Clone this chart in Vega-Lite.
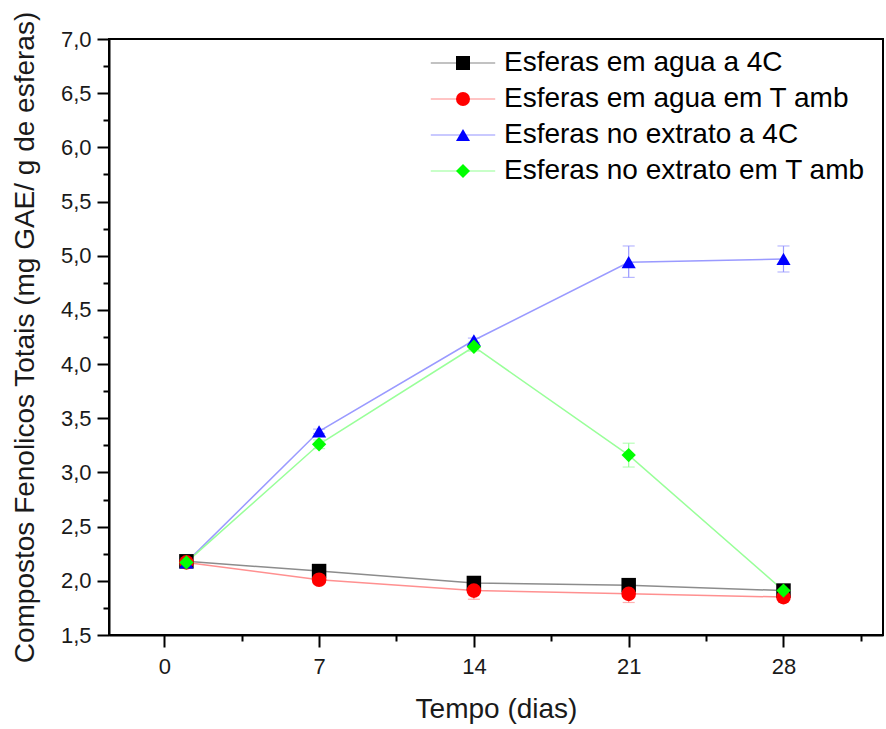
{
  "$schema": "https://vega.github.io/schema/vega-lite/v6.json",
  "autosize": {"type": "none"},
  "width": 774,
  "height": 596,
  "padding": {"left": 109, "top": 39, "right": 3, "bottom": 94},
  "background": "white",
  "config": {
    "view": {"stroke": "black", "strokeWidth": 2},
    "axis": {"grid": false, "labelFont": "Liberation Sans", "titleFont": "Liberation Sans", "titleFontWeight": "normal", "labelColor": "#1a1a1a", "titleColor": "#1a1a1a", "tickColor": "black", "domainColor": "black"}
  },
  "data": {
    "values": [
      {"series": "Esferas em agua a 4C", "day": 1, "value": 2.18, "lo": 2.16, "hi": 2.20},
      {"series": "Esferas em agua a 4C", "day": 7, "value": 2.09, "lo": 2.07, "hi": 2.11},
      {"series": "Esferas em agua a 4C", "day": 14, "value": 1.98, "lo": 1.96, "hi": 2.00},
      {"series": "Esferas em agua a 4C", "day": 21, "value": 1.96, "lo": 1.94, "hi": 1.98},
      {"series": "Esferas em agua a 4C", "day": 28, "value": 1.91, "lo": 1.89, "hi": 1.93},
      {"series": "Esferas em agua em T amb", "day": 1, "value": 2.17, "lo": 2.15, "hi": 2.19},
      {"series": "Esferas em agua em T amb", "day": 7, "value": 2.01, "lo": 1.99, "hi": 2.03},
      {"series": "Esferas em agua em T amb", "day": 14, "value": 1.91, "lo": 1.83, "hi": 1.97},
      {"series": "Esferas em agua em T amb", "day": 21, "value": 1.88, "lo": 1.80, "hi": 1.95},
      {"series": "Esferas em agua em T amb", "day": 28, "value": 1.85, "lo": 1.83, "hi": 1.87},
      {"series": "Esferas no extrato a 4C", "day": 1, "value": 2.17, "lo": 2.15, "hi": 2.19},
      {"series": "Esferas no extrato a 4C", "day": 7, "value": 3.38, "lo": 3.36, "hi": 3.40},
      {"series": "Esferas no extrato a 4C", "day": 14, "value": 4.22, "lo": 4.20, "hi": 4.24},
      {"series": "Esferas no extrato a 4C", "day": 21, "value": 4.94, "lo": 4.80, "hi": 5.09},
      {"series": "Esferas no extrato a 4C", "day": 28, "value": 4.97, "lo": 4.85, "hi": 5.09},
      {"series": "Esferas no extrato em T amb", "day": 1, "value": 2.17, "lo": 2.15, "hi": 2.19},
      {"series": "Esferas no extrato em T amb", "day": 7, "value": 3.26, "lo": 3.22, "hi": 3.30},
      {"series": "Esferas no extrato em T amb", "day": 14, "value": 4.16, "lo": 4.12, "hi": 4.20},
      {"series": "Esferas no extrato em T amb", "day": 21, "value": 3.16, "lo": 3.05, "hi": 3.27},
      {"series": "Esferas no extrato em T amb", "day": 28, "value": 1.91, "lo": 1.89, "hi": 1.93}
    ]
  },
  "resolve": {"axis": {"x": "independent", "y": "independent"}},
  "layer": [
    {
      "mark": {"type": "line", "strokeWidth": 1.5},
      "encoding": {
        "x": {"field": "day", "type": "quantitative",
          "scale": {"domain": [-2.5, 32.5], "nice": false, "zero": false},
          "axis": {"orient": "bottom", "title": "Tempo (dias)", "values": [0, 7, 14, 21, 28], "tickSize": 12, "tickWidth": 2, "domainWidth": 2, "labelFontSize": 22, "labelPadding": 9, "titleFontSize": 28, "titlePadding": 18}},
        "y": {"field": "value", "type": "quantitative",
          "scale": {"domain": [1.5, 7], "nice": false, "zero": false},
          "axis": {"orient": "left", "title": "Compostos Fenolicos Totais (mg GAE/ g de esferas)", "values": [1.5, 2, 2.5, 3, 3.5, 4, 4.5, 5, 5.5, 6, 6.5, 7], "labelExpr": "replace(format(datum.value, '.1f'), '.', ',')", "tickSize": 12, "tickWidth": 2, "domainWidth": 2, "labelFontSize": 22, "labelPadding": 6, "titleFontSize": 28, "titlePadding": 21}},
        "color": {"field": "series", "type": "nominal",
          "scale": {"domain": ["Esferas em agua a 4C", "Esferas em agua em T amb", "Esferas no extrato a 4C", "Esferas no extrato em T amb", "-"], "range": ["#8c8c8c", "#ff9090", "#9a9aff", "#99ff99", "#ffffff"]},
          "legend": {"values": ["Esferas em agua a 4C", "Esferas em agua em T amb", "Esferas no extrato a 4C", "Esferas no extrato em T amb"], "title": null, "orient": "none", "legendX": 340, "legendY": 10, "padding": 0, "labelFontSize": 28, "labelFont": "Liberation Sans", "labelOpacity": 0, "labelLimit": 500, "symbolSize": 196, "labelOffset": 27, "rowPadding": 8, "symbolType": "M-4.6,0L4.6,0", "symbolStrokeWidth": 1.5}}
      }
    },
    {
      "mark": {"type": "errorbar", "ticks": {"size": 12, "thickness": 1.2}, "thickness": 1.2},
      "encoding": {
        "x": {"field": "day", "type": "quantitative", "axis": null},
        "y": {"field": "lo", "type": "quantitative", "axis": null},
        "y2": {"field": "hi"},
        "color": {"field": "series", "type": "nominal"}
      }
    },
    {
      "mark": {"type": "point", "filled": true, "opacity": 1, "strokeWidth": 0},
      "encoding": {
        "x": {"field": "day", "type": "quantitative", "axis": null},
        "y": {"field": "value", "type": "quantitative", "axis": null},
        "size": {"field": "series", "type": "nominal",
          "scale": {"domain": ["Esferas em agua em T amb", "Esferas em agua a 4C", "Esferas no extrato em T amb", "Esferas no extrato a 4C"], "range": [215, 200, 340, 300]},
          "legend": null},
        "fill": {"field": "series", "type": "nominal",
          "scale": {"domain": ["Esferas em agua a 4C", "Esferas em agua em T amb", "Esferas no extrato a 4C", "Esferas no extrato em T amb"], "range": ["#000000", "#ff0000", "#0000ff", "#00ff00"]},
          "legend": {"title": null, "orient": "none", "legendX": 340, "legendY": 10, "padding": 0, "labelFontSize": 28, "labelFont": "Liberation Sans", "labelColor": "#000000", "labelLimit": 500, "symbolSize": 196, "labelOffset": 27, "rowPadding": 8}},
        "shape": {"field": "series", "type": "nominal",
          "scale": {"domain": ["Esferas em agua a 4C", "Esferas em agua em T amb", "Esferas no extrato a 4C", "Esferas no extrato em T amb"], "range": ["square", "circle", "triangle-up", "diamond"]}}
      }
    },
    {
      "mark": {"type": "point", "opacity": 0},
      "encoding": {
        "x": {"field": "day", "type": "quantitative",
          "axis": {"orient": "bottom", "values": [3.5, 10.5, 17.5, 24.5, 31.5], "tickSize": 6, "tickWidth": 2, "labels": false, "domain": false, "title": null}},
        "y": {"field": "value", "type": "quantitative",
          "axis": {"orient": "left", "values": [1.75, 2.25, 2.75, 3.25, 3.75, 4.25, 4.75, 5.25, 5.75, 6.25, 6.75], "tickSize": 6, "tickWidth": 2, "labels": false, "domain": false, "title": null}}
      }
    }
  ]
}
